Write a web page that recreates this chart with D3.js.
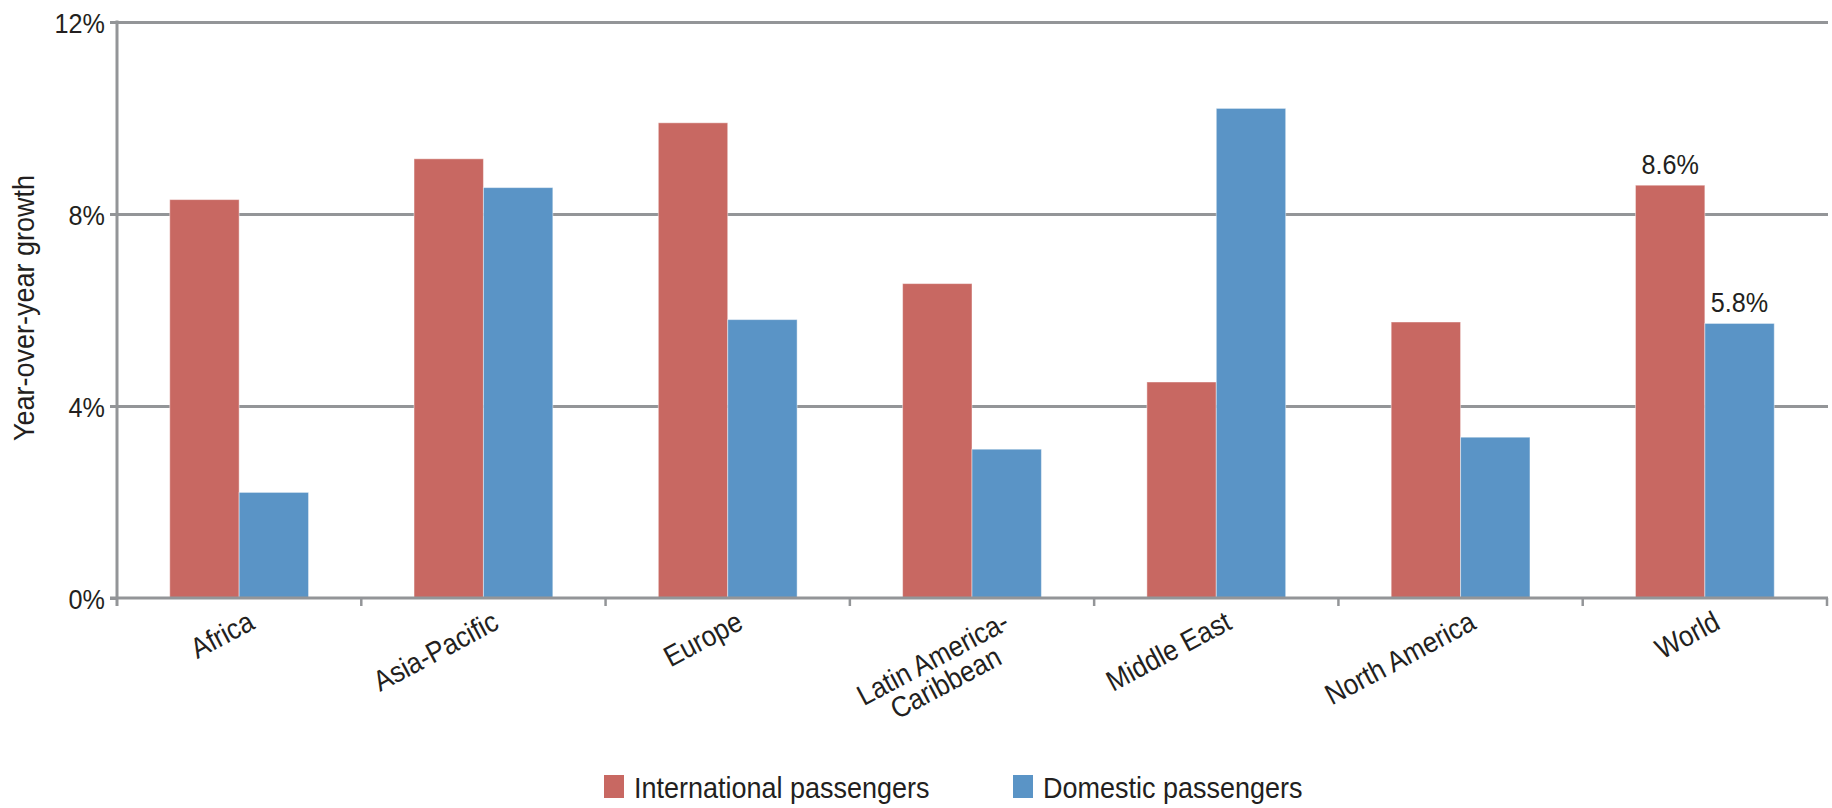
<!DOCTYPE html>
<html>
<head>
<meta charset="utf-8">
<script src="https://cdn.jsdelivr.net/npm/d3@7"></script>
<style>
  body { margin: 0; background: #fff; }
  svg { display: block; font-family: "Liberation Sans", Arial, sans-serif; }
  .narrow { transform-box: fill-box; transform: scaleX(0.9); }
</style>
</head>
<body>
<div id="chart"></div>
<script>
var regions = ["Africa", "Asia-Pacific", "Europe", "Latin America-\nCaribbean", "Middle East", "North America", "World"]
var international = [8.3, 9.15, 9.9, 6.55, 4.5, 5.75, 8.6]
var domestic = [2.2, 8.55, 5.8, 3.1, 10.2, 3.35, 5.72]
var seriesNames = ["International passengers", "Domestic passengers"]
var seriesColors = ["#c86862", "#5a94c6"]
var yTicks = [0, 4, 8, 12]
var labelledRegion = "World"
var worldLabels = ["8.6%", "5.8%"]

var margin = {top: 22, right: 5, bottom: 210, left: 117},
width = 1832 - margin.left - margin.right,
height = 808 - margin.top - margin.bottom

var textColor = "#231f20", gridColor = "#939598"

var data = regions.map(function(r, i){
  return {region: r, values: [international[i], domestic[i]]}
})

var x0 = d3.scaleBand()
  .domain(regions)
  .range([0, width])

var x1 = d3.scaleBand()
  .domain([0, 1])
  .range([0, x0.bandwidth()])
  .paddingOuter(0.76)

var y = d3.scaleLinear()
  .domain([0, 12])
  .range([height, 0])

// squeeze glyphs a little, pivoting on the anchor side
function narrow(sel, origin) {
  sel.classed("narrow", true).style("transform-origin", origin)
}

var svg = d3.select("#chart").append("svg")
  .attr("width", width + margin.left + margin.right)
  .attr("height", height + margin.top + margin.bottom)
  .append("g")
  .attr("transform", "translate(" + margin.left + "," + margin.top + ")")

// y axis + gridlines
var yAxis = svg.append("g")
  .attr("class", "y axis")
  .call(d3.axisLeft(y).tickValues(yTicks).tickSize(7).tickPadding(5).tickFormat(function(d){ return d + "%" }))

yAxis.select(".domain").remove()
yAxis.selectAll(".tick line")
  .attr("x1", function(d){ return d === 0 ? 0 : width + 1 })
  .attr("stroke", gridColor)
  .attr("stroke-width", 3)
yAxis.selectAll(".tick text")
  .attr("fill", textColor)
  .attr("font-family", null)
  .attr("font-size", null)
  .style("font-size", "28px")
  .attr("dy", "0.36em")
  .call(narrow, "right center")

// bars
var groups = svg.selectAll(".region")
  .data(data)
  .enter().append("g")
  .attr("class", "region")
  .attr("transform", function(d){ return "translate(" + x0(d.region) + ",0)" })

groups.selectAll("rect")
  .data(function(d){ return d.values.map(function(v, i){ return {i: i, value: v, region: d.region} }) })
  .enter().append("rect")
  .attr("x", function(d){ return x1(d.i) })
  .attr("width", x1.bandwidth())
  .attr("y", function(d){ return y(d.value) })
  .attr("height", function(d){ return height - y(d.value) })
  .attr("fill", function(d){ return seriesColors[d.i] })
  .attr("stroke", "rgba(255,255,255,0.45)")
  .attr("stroke-width", 1)

// value labels for World only
groups.filter(function(d){ return d.region === labelledRegion })
  .selectAll(".value")
  .data(function(d){ return d.values.map(function(v, i){ return {i: i, value: v} }) })
  .enter().append("text")
  .attr("class", "value")
  .attr("x", function(d){ return x1(d.i) + x1.bandwidth() / 2 })
  .attr("y", function(d){ return y(d.value) - 11 })
  .attr("text-anchor", "middle")
  .attr("fill", textColor)
  .style("font-size", "28px")
  .text(function(d){ return worldLabels[d.i] })
  .call(narrow, "center")

// x axis baseline, y axis line
svg.append("line")
  .attr("x1", -7).attr("x2", width + 1)
  .attr("y1", height).attr("y2", height)
  .attr("stroke", gridColor).attr("stroke-width", 3)

svg.append("line")
  .attr("x1", 0).attr("x2", 0)
  .attr("y1", y(12) - 1.5).attr("y2", height + 8)
  .attr("stroke", gridColor).attr("stroke-width", 3)

// ticks between bands
var bounds = regions.map(function(r){ return x0(r) }).concat([width])
svg.selectAll(".xtick")
  .data(bounds.slice(1))
  .enter().append("line")
  .attr("class", "xtick")
  .attr("x1", function(d){ return d }).attr("x2", function(d){ return d })
  .attr("y1", height).attr("y2", height + 8)
  .attr("stroke", gridColor).attr("stroke-width", 2.5)

// category labels
var labels = svg.selectAll(".xlabel")
  .data(regions)
  .enter().append("g")
  .attr("class", "xlabel")
  .attr("transform", function(d){
    var lines = d.split("\n").length
    var cx = x0(d) + x0.bandwidth() / 2 + 17 + (lines - 1) * 22
    return "translate(" + cx + "," + (height + 30) + ") rotate(-28)"
  })
  .append("text")
  .attr("text-anchor", "end")
  .attr("fill", textColor)
  .style("font-size", "29px")

labels.each(function(d){
  var t = d3.select(this)
  var lines = d.split("\n")
  var spans = lines.map(function(line, i){
    return t.append("tspan").attr("x", 0).attr("dy", i ? "0.95em" : 0).text(line)
  })
  var widths = spans.map(function(s){ return s.node().getComputedTextLength() })
  var maxW = d3.max(widths)
  spans.forEach(function(s, i){ s.attr("x", -(maxW - widths[i]) / 2) })
})
labels.call(narrow, "right top")

// y title
svg.append("g")
  .attr("transform", "translate(" + (-margin.left + 34) + "," + (308 - margin.top) + ") rotate(-90)")
  .append("text")
  .attr("text-anchor", "middle")
  .attr("fill", textColor)
  .style("font-size", "30px")
  .text("Year-over-year growth")
  .call(narrow, "center")

// legend
var legendX = [604, 1013]
var legend = svg.selectAll(".legend")
  .data(seriesNames)
  .enter().append("g")
  .attr("class", "legend")
  .attr("transform", function(d, i){ return "translate(" + (legendX[i] - margin.left) + "," + (775 - margin.top) + ")" })

legend.append("rect")
  .attr("width", 20).attr("height", 23)
  .attr("fill", function(d, i){ return seriesColors[i] })

legend.append("text")
  .attr("x", 30).attr("y", 12)
  .attr("dy", "0.36em")
  .attr("fill", textColor)
  .style("font-size", "30px")
  .text(function(d){ return d })
  .call(narrow, "left center")
</script>
</body>
</html>
